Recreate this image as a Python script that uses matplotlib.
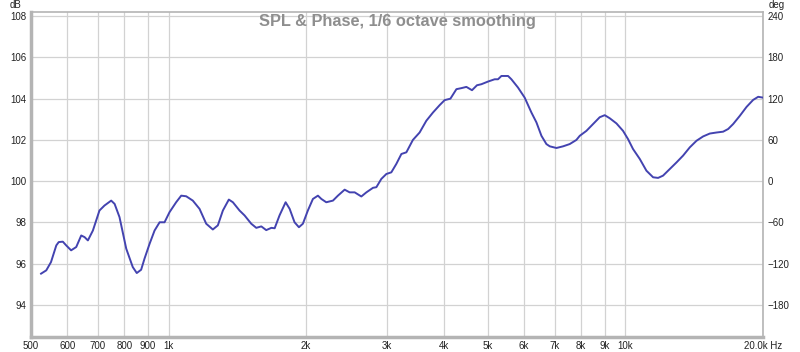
"""
SPL & Phase, 1/6 octave smoothing
"""

import matplotlib
matplotlib.use('Agg')
import matplotlib.pyplot as plt
import matplotlib.ticker as mticker

plt.rcParams['font.family'] = ['Liberation Sans', 'DejaVu Sans']

freq = [526, 540, 553, 568, 575, 587, 597, 612, 628, 644, 655, 666, 683, 706, 724, 749, 762, 781,
        808, 835, 852, 871, 886, 909, 932, 956, 980, 1005, 1039, 1066, 1093, 1130, 1169, 1209,
        1250, 1282, 1315, 1355, 1383, 1430, 1467, 1517, 1556, 1596, 1636, 1679, 1707, 1750, 1804,
        1841, 1887, 1929, 1968, 2018, 2070, 2123, 2160, 2214, 2290, 2348, 2429, 2491, 2555, 2642,
        2710, 2802, 2850, 2922, 2997, 3073, 3152, 3233, 3315, 3426, 3544, 3666, 3791, 3922, 4021,
        4139, 4266, 4374, 4486, 4615, 4732, 4838, 5004, 5173, 5261, 5352, 5534, 5628, 5818, 6018,
        6225, 6385, 6548, 6714, 6829, 7063, 7302, 7551, 7809, 7943, 8214, 8494, 8783, 9008, 9240,
        9557, 9879, 10131, 10389, 10747, 11114, 11495, 11788, 12086, 12503, 12933, 13369, 13829,
        14305, 14789, 15297, 15823, 16359, 16779, 17206, 17798, 18408, 19031, 19520, 20010]
spl = [95.52, 95.68, 96.08, 96.89, 97.05, 97.07, 96.89, 96.65, 96.81, 97.37, 97.29, 97.13, 97.61,
       98.58, 98.82, 99.06, 98.90, 98.26, 96.73, 95.84, 95.55, 95.71, 96.25, 96.97, 97.61, 98.01,
       98.01, 98.50, 98.98, 99.30, 99.27, 99.06, 98.66, 97.94, 97.66, 97.86, 98.58, 99.11, 98.98,
       98.58, 98.34, 97.94, 97.74, 97.81, 97.63, 97.74, 97.72, 98.35, 98.98, 98.66, 98.01, 97.77,
       97.94, 98.58, 99.14, 99.30, 99.14, 98.98, 99.06, 99.30, 99.59, 99.46, 99.46, 99.26, 99.46,
       99.68, 99.71, 100.11, 100.35, 100.43, 100.84, 101.32, 101.40, 102.00, 102.36, 102.93,
       103.33, 103.69, 103.93, 104.00, 104.46, 104.51, 104.57, 104.41, 104.65, 104.70, 104.83,
       104.94, 104.94, 105.10, 105.10, 104.94, 104.54, 104.05, 103.33, 102.85, 102.20, 101.80,
       101.69, 101.61, 101.69, 101.80, 102.00, 102.20, 102.44, 102.77, 103.10, 103.20, 103.05,
       102.80, 102.44, 102.04, 101.56, 101.08, 100.51, 100.19, 100.16, 100.27, 100.59, 100.91,
       101.24, 101.64, 101.96, 102.17, 102.31, 102.36, 102.40, 102.53, 102.77, 103.17, 103.60,
       103.94, 104.09, 104.05]

xticks = [500, 600, 700, 800, 900, 1000, 2000, 3000, 4000, 5000, 6000, 7000, 8000, 9000, 10000, 20000]
xlabels = ['500', '600', '700', '800', '900', '1k', '2k', '3k', '4k', '5k', '6k', '7k', '8k', '9k',
           '10k', '20.0k Hz']
db_ticks = [94, 96, 98, 100, 102, 104, 106, 108]
deg_ticks = [-180, -120, -60, 0, 60, 120, 180, 240]

fig = plt.figure(figsize=(8, 3.52), dpi=100)
ax = fig.add_axes([31 / 800, 1 - 337 / 352, (763 - 31) / 800, (337 - 12) / 352])

ax.plot(freq, spl, color='#4343b0', lw=1.4, solid_joinstyle='round', zorder=3)

ax.set_xscale('log')
ax.set_xlim(500, 20000)
ax.set_ylim(92.45, 108.2)
ax.xaxis.set_major_locator(mticker.FixedLocator(xticks))
ax.xaxis.set_major_formatter(mticker.FixedFormatter(xlabels))
ax.xaxis.set_minor_locator(mticker.NullLocator())
ax.set_yticks(db_ticks)
ax.grid(True, color='#d2d2d2', lw=0.9)
ax.tick_params(length=0, labelsize=7, colors='#222222', pad=3)

for side, sp in ax.spines.items():
    sp.set_color('#b4b4b4')
    sp.set_linewidth(2.5 if side in ('left', 'bottom') else 1.2)

ax2 = ax.twinx()
ax2.set_ylim((92.45 - 100) * 30, (108.2 - 100) * 30)
ax2.set_yticks(deg_ticks)
ax2.tick_params(length=0, labelsize=7, colors='#222222', pad=3)
for sp in ax2.spines.values():
    sp.set_visible(False)

fig.text(16 / 800, 1 - 5 / 352, 'dB', fontsize=7, ha='center', va='center', color='#222222')
fig.text(777 / 800, 1 - 5 / 352, 'deg', fontsize=7, ha='center', va='center', color='#222222')
ax.text(0.5, 0.995, 'SPL & Phase, 1/6 octave smoothing', transform=ax.transAxes,
        ha='center', va='top', fontsize=11.8, fontweight='bold', color='#8e8e8e')

fig.savefig('out.png', dpi=100)
